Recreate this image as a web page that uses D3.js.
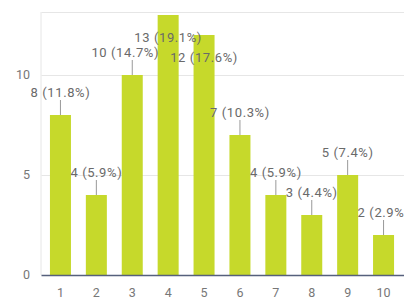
<!DOCTYPE html>
<meta charset="utf-8">
<style>
    body {
        margin: 0;
        background-color: #fff;
    }

    svg {
        display: block;
    }

    text {
        font-family: Roboto, sans-serif;
    }

    .tick-label {
        font-size: 12.5px;
        fill: #777;
    }

    .bar-label {
        font-size: 13px;
        fill: #6a6a6a;
        letter-spacing: 0.6px;
    }

    .grid line {
        stroke: #e6e6e6;
        stroke-width: 1px;
    }
</style>
<svg width="404" height="301"></svg>
<script src="https://d3js.org/d3.v7.min.js"></script>
<script>
    // answers 1..10, number of responses and share
    var categories = ["1", "2", "3", "4", "5", "6", "7", "8", "9", "10"];
    var counts = [8, 4, 10, 13, 12, 7, 4, 3, 5, 2];
    var percents = ["11.8%", "5.9%", "14.7%", "19.1%", "17.6%", "10.3%", "5.9%", "4.4%", "7.4%", "2.9%"];
    var yTicks = [0, 5, 10];

    // small manual nudge, label of "3" sits a bit left in the original
    var labelNudge = { "3": -7 };

    var svg = d3.select("svg"),
        plotLeft = 42.5,
        plotRight = 401.5,
        plotTop = 12,
        plotBottom = 275;

    var x = d3.scaleBand()
        .domain(categories)
        .range([plotLeft, plotRight])
        .paddingInner(0.415)
        .paddingOuter(0.2075);

    var y = d3.scaleLinear()
        .domain([0, 13.15])
        .range([plotBottom, plotTop]);

    var data = categories.map(function(c, i) {
        return { cat: c, value: counts[i], pct: percents[i] };
    });

    // grid + frame
    var grid = svg.append("g").attr("class", "grid");
    grid.selectAll("line.h")
        .data(yTicks.filter(function(d) { return d > 0; }))
        .enter().append("line")
        .attr("class", "h")
        .attr("x1", plotLeft - 1)
        .attr("x2", 404)
        .attr("y1", function(d) { return Math.round(y(d)) + 0.5; })
        .attr("y2", function(d) { return Math.round(y(d)) + 0.5; });
    grid.append("line")
        .attr("x1", plotLeft - 1).attr("x2", 404)
        .attr("y1", plotTop + 0.5).attr("y2", plotTop + 0.5);
    grid.append("line")
        .attr("x1", plotLeft - 1.5).attr("x2", plotLeft - 1.5)
        .attr("y1", plotTop).attr("y2", plotBottom);

    // y tick labels
    svg.append("g")
        .selectAll("text")
        .data(yTicks)
        .enter().append("text")
        .attr("class", "tick-label")
        .attr("x", 30)
        .attr("y", function(d) { return y(d); })
        .attr("dy", "0.35em")
        .attr("text-anchor", "end")
        .text(function(d) { return d; });

    // bars
    svg.append("g")
        .selectAll("rect")
        .data(data)
        .enter().append("rect")
        .attr("x", function(d) { return x(d.cat); })
        .attr("y", function(d) { return y(d.value); })
        .attr("width", x.bandwidth())
        .attr("height", function(d) { return y(0) - y(d.value); })
        .attr("fill", "#c6d92b");

    // baseline
    svg.append("line")
        .attr("x1", plotLeft - 1)
        .attr("x2", 404)
        .attr("y1", plotBottom + 0.5)
        .attr("y2", plotBottom + 0.5)
        .attr("stroke", "#56607c")
        .attr("stroke-width", 1.5);

    // x labels
    svg.append("g")
        .selectAll("text")
        .data(categories)
        .enter().append("text")
        .attr("class", "tick-label")
        .attr("x", function(d) { return x(d) + x.bandwidth() / 2; })
        .attr("y", 297)
        .attr("text-anchor", "middle")
        .text(function(d) { return d; });

    // annotations: above the bar with a leader, or inside if no room on top
    function inside(d) {
        return y(d.value) - 18 - 10 < plotTop;
    }

    var ann = svg.append("g")
        .selectAll("g")
        .data(data)
        .enter().append("g");

    ann.filter(function(d) { return !inside(d); })
        .append("line")
        .attr("x1", function(d) { return x(d.cat) + x.bandwidth() / 2; })
        .attr("x2", function(d) { return x(d.cat) + x.bandwidth() / 2; })
        .attr("y1", function(d) { return y(d.value); })
        .attr("y2", function(d) { return y(d.value) - 15; })
        .attr("stroke", "#999")
        .attr("stroke-width", 1);

    ann.append("text")
        .attr("class", "bar-label")
        .attr("x", function(d) {
            return x(d.cat) + x.bandwidth() / 2 + (labelNudge[d.cat] || 0);
        })
        .attr("y", function(d) {
            return inside(d) ? y(d.value) + 27 : y(d.value) - 18;
        })
        .attr("text-anchor", "middle")
        .text(function(d) { return d.value + " (" + d.pct + ")"; });
</script>
